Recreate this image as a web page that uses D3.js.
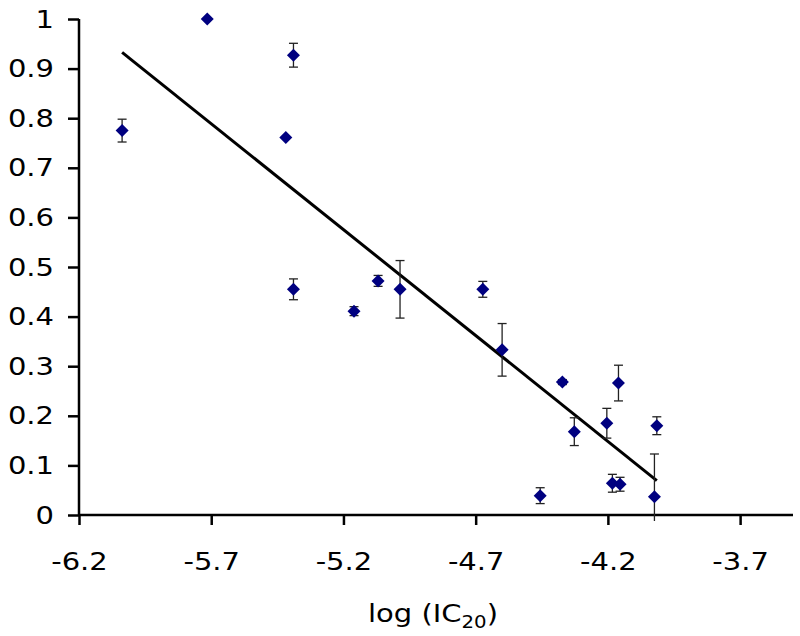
<!DOCTYPE html>
<html>
<head>
<meta charset="utf-8">
<script src="https://cdn.jsdelivr.net/npm/d3@7"></script>
<style>
  html, body { margin: 0; padding: 0; background: #fff; }
  svg { display: block; }
  text { font-family: "DejaVu Sans", Verdana, sans-serif; fill: #000; }
</style>
</head>
<body>
<svg id="chart" width="800" height="636"></svg>
<script>
// ---- data ----
const logIC20  = [-6.037, -5.715, -5.389, -5.418, -5.389, -5.160, -5.069, -4.986, -4.673, -4.600,
                  -4.372, -4.160, -4.327, -4.204, -4.015, -4.183, -4.154, -4.024, -4.456];
const response = [0.775, 1.000, 0.927, 0.761, 0.455, 0.411, 0.472, 0.455, 0.455, 0.333,
                  0.268, 0.266, 0.168, 0.185, 0.180, 0.064, 0.062, 0.037, 0.039];
const errorBar = [0.023, 0.000, 0.024, 0.000, 0.021, 0.009, 0.011, 0.058, 0.016, 0.053,
                  0.005, 0.036, 0.028, 0.030, 0.018, 0.018, 0.014, 0.086, 0.016];
const xTickValues = [-6.2, -5.7, -5.2, -4.7, -4.2, -3.7];
const yTickValues = [0, 0.1, 0.2, 0.3, 0.4, 0.5, 0.6, 0.7, 0.8, 0.9, 1];
const trendSlope = -0.427;
const trendIntercept = -1.645;
const xDomain = [-6.2, -3.5];
const yDomain = [0, 1];

// ---- layout ----
const svg = d3.select("#chart");
const mLeft = 79, mRight = 793, mTop = 19, mBottom = 515;

const x = d3.scaleLinear().domain(xDomain).range([mLeft, mRight]);
const y = d3.scaleLinear().domain(yDomain).range([mBottom, mTop]);

svg.append("defs").append("clipPath").attr("id", "plotclip")
  .append("rect").attr("x", mLeft).attr("y", 0).attr("width", mRight - mLeft).attr("height", mBottom + 6);

const fontSize = 25;
const stretch = 1.16;

// Y axis
const yAxis = svg.append("g").attr("transform", `translate(${mLeft},0)`)
  .call(d3.axisLeft(y).tickValues(yTickValues).tickSize(11).tickPadding(14)
        .tickFormat(d => d3.format("~g")(d)));
yAxis.selectAll(".tick line").attr("stroke", "#000").attr("stroke-width", 2.5);
yAxis.selectAll(".tick text")
  .style("font-size", fontSize + "px")
  .style("font-family", "'DejaVu Sans', Verdana, sans-serif")
  .each(function() {
    const t = d3.select(this);
    const xx = +t.attr("x");
    t.attr("x", null).attr("transform", `translate(${xx},0) scale(${stretch},1)`);
  });

// X axis
const xAxis = svg.append("g").attr("transform", `translate(0,${mBottom})`)
  .call(d3.axisBottom(x).tickValues(xTickValues).tickSize(10).tickPadding(28)
        .tickFormat(d => d3.format(".1f")(d).replace("−", "-")));
xAxis.selectAll(".tick line").attr("stroke", "#000").attr("stroke-width", 2.5);
xAxis.selectAll(".tick text")
  .style("font-size", fontSize + "px")
  .style("font-family", "'DejaVu Sans', Verdana, sans-serif")
  .attr("dy", null)
  .each(function() {
    const t = d3.select(this);
    const yy = +t.attr("y");
    t.attr("y", null)
     .attr("transform", `translate(0,${yy + 17}) scale(${stretch},1)`);
  });

yAxis.select(".domain").attr("d", `M0,${mTop}V${mBottom}`).attr("stroke", "#000").attr("stroke-width", 2.5);
xAxis.select(".domain").attr("d", `M${mLeft},0H${mRight}`).attr("stroke", "#000").attr("stroke-width", 2.5);

// Trend line
const xMin = d3.min(logIC20), xMax = d3.max(logIC20);
svg.append("line")
  .attr("x1", x(xMin)).attr("y1", y(trendIntercept + trendSlope * xMin))
  .attr("x2", x(xMax)).attr("y2", y(trendIntercept + trendSlope * xMax))
  .attr("stroke", "#000").attr("stroke-width", 3);

// Error bars
const pts = logIC20.map((v, i) => ({ x: v, y: response[i], e: errorBar[i] }));
const eb = svg.append("g").attr("clip-path", "url(#plotclip)")
  .attr("stroke", "#222").attr("stroke-width", 1.3).attr("fill", "none");
pts.filter(d => d.e > 0).forEach(d => {
  const cx = x(d.x), y1 = y(d.y + d.e), y2 = y(d.y - d.e);
  eb.append("line").attr("x1", cx).attr("x2", cx).attr("y1", y1).attr("y2", y2);
  eb.append("line").attr("x1", cx - 4.5).attr("x2", cx + 4.5).attr("y1", y1).attr("y2", y1);
  if (d.y - d.e >= 0)
    eb.append("line").attr("x1", cx - 4.5).attr("x2", cx + 4.5).attr("y1", y2).attr("y2", y2);
});

// Markers (diamonds)
svg.append("g").selectAll("path").data(pts).join("path")
  .attr("d", "M0,-6.5L6.5,0L0,6.5L-6.5,0Z")
  .attr("transform", d => `translate(${x(d.x)},${y(d.y)})`)
  .attr("fill", "#000080");

// Axis title
const title = svg.append("text")
  .attr("text-anchor", "middle")
  .style("font-size", fontSize + "px")
  .attr("transform", `translate(${(mLeft + mRight) / 2 - 3},622) scale(${stretch},1)`);
title.append("tspan").text("log (IC");
title.append("tspan").style("font-size", "17px").attr("dy", 6).text("20");
title.append("tspan").attr("dy", -6).text(")");
</script>
</body>
</html>
